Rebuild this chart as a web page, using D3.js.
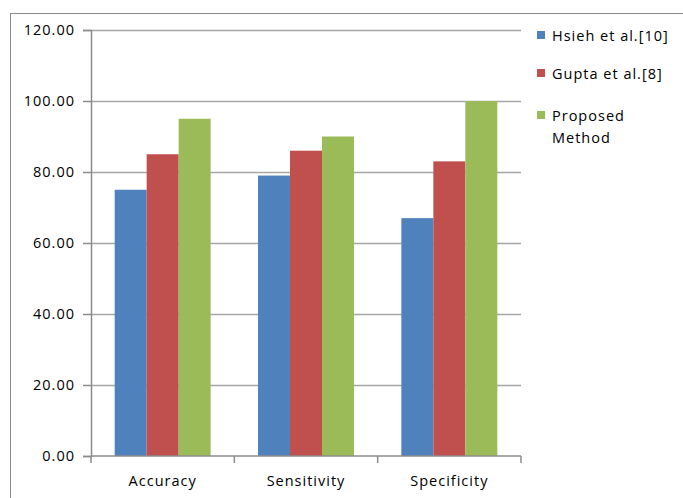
<!DOCTYPE html>
<html>
<head>
<meta charset="utf-8">
<script src="https://cdn.jsdelivr.net/npm/d3@7"></script>
<style>
  body { margin: 0; background: #fff; }
  svg text { font-family: "Open Sans", "Noto Sans", sans-serif; fill: #000; letter-spacing: 1px; }
</style>
</head>
<body>
<svg id="chart" width="683" height="498"></svg>
<script>
// chart data
const categories = ['Accuracy', 'Sensitivity', 'Specificity'];
const seriesNames = ['Hsieh et al.[10]', 'Gupta et al.[8]', 'Proposed Method'];
const hsiehValues = [75, 79, 67];
const guptaValues = [85, 86, 83];
const proposedValues = [95, 90, 100];
const yTicks = [0, 20, 40, 60, 80, 100, 120];

const colors = ['#4f81bd', '#c0504d', '#9bbb59'];
const allSeries = [hsiehValues, guptaValues, proposedValues];

const margin = { top: 30, left: 91, right: 162, bottom: 42 };
const width = 683 - margin.left - margin.right;
const height = 498 - margin.top - margin.bottom;

const svg = d3.select('#chart');

// outer frame (right and bottom edges fall outside the picture)
svg.append('rect')
    .attr('x', 10.5).attr('y', 13.5)
    .attr('width', 700).attr('height', 520)
    .attr('fill', 'none')
    .attr('stroke', '#8c8c8c')
    .attr('stroke-width', 1);

const g = svg.append('g')
    .attr('transform', `translate(${margin.left},${margin.top})`);

const x = d3.scaleBand()
    .domain(categories)
    .range([0, width]);

const x1 = d3.scaleBand()
    .domain(d3.range(seriesNames.length))
    .range([0, x.bandwidth()])
    .paddingOuter(0.74);

const y = d3.scaleLinear()
    .domain([0, 120])
    .range([height, 0]);

// grid lines
g.append('g')
    .selectAll('line')
    .data(yTicks.filter(d => d > 0))
    .join('line')
    .attr('x1', 0).attr('x2', width)
    .attr('y1', d => Math.round(y(d)) + 0.5)
    .attr('y2', d => Math.round(y(d)) + 0.5)
    .attr('stroke', '#a6a6a6')
    .attr('stroke-width', 1.5);

// bars
const groups = g.append('g')
    .selectAll('g')
    .data(categories)
    .join('g')
    .attr('transform', d => `translate(${x(d)},0)`);

groups.selectAll('rect')
    .data((d, i) => allSeries.map((s, k) => ({ k, v: s[i] })))
    .join('rect')
    .attr('x', d => x1(d.k))
    .attr('width', x1.bandwidth())
    .attr('y', d => y(d.v))
    .attr('height', d => height - y(d.v))
    .attr('fill', d => colors[d.k]);

// y axis
const yAxis = d3.axisLeft(y)
    .tickValues(yTicks)
    .tickFormat(d3.format('.2f'))
    .tickSize(8)
    .tickPadding(8);

const yAxisG = g.append('g').call(yAxis);
yAxisG.select('.domain').attr('stroke', '#8c8c8c').attr('stroke-width', 1.5);
yAxisG.selectAll('.tick line').attr('stroke', '#8c8c8c').attr('stroke-width', 1.5);
yAxisG.selectAll('.tick text').attr('font-size', 14.5).attr('fill', '#000');

// x axis
const xAxisG = g.append('g')
    .attr('transform', `translate(0,${height})`);

xAxisG.append('line')
    .attr('x1', 0).attr('x2', width)
    .attr('y1', 0).attr('y2', 0)
    .attr('stroke', '#8c8c8c')
    .attr('stroke-width', 1.5);

xAxisG.selectAll('.xtick')
    .data(d3.range(categories.length + 1))
    .join('line')
    .attr('class', 'xtick')
    .attr('x1', i => i * x.step())
    .attr('x2', i => i * x.step())
    .attr('y1', 0).attr('y2', 7)
    .attr('stroke', '#8c8c8c')
    .attr('stroke-width', 1.5);

xAxisG.selectAll('text')
    .data(categories)
    .join('text')
    .attr('x', d => x(d) + x.bandwidth() / 2)
    .attr('y', 30)
    .attr('text-anchor', 'middle')
    .attr('font-size', 14.5)
    .text(d => d);

// legend
const legend = svg.append('g')
    .attr('transform', 'translate(537,0)');

const legendY = [36, 74, 116];
const legendLines = [['Hsieh et al.[10]'], ['Gupta et al.[8]'], ['Proposed', 'Method']];

legend.selectAll('rect')
    .data(seriesNames)
    .join('rect')
    .attr('x', 0)
    .attr('y', (d, i) => legendY[i] - 5)
    .attr('width', 8)
    .attr('height', 8)
    .attr('fill', (d, i) => colors[i]);

legend.selectAll('text')
    .data(seriesNames)
    .join('text')
    .attr('x', 15)
    .attr('y', (d, i) => legendY[i] + 5)
    .attr('font-size', 14.5)
    .each(function (d, i) {
        d3.select(this).selectAll('tspan')
            .data(legendLines[i])
            .join('tspan')
            .attr('x', 15)
            .attr('dy', (t, j) => j === 0 ? 0 : 22)
            .text(t => t);
    });
</script>
</body>
</html>
